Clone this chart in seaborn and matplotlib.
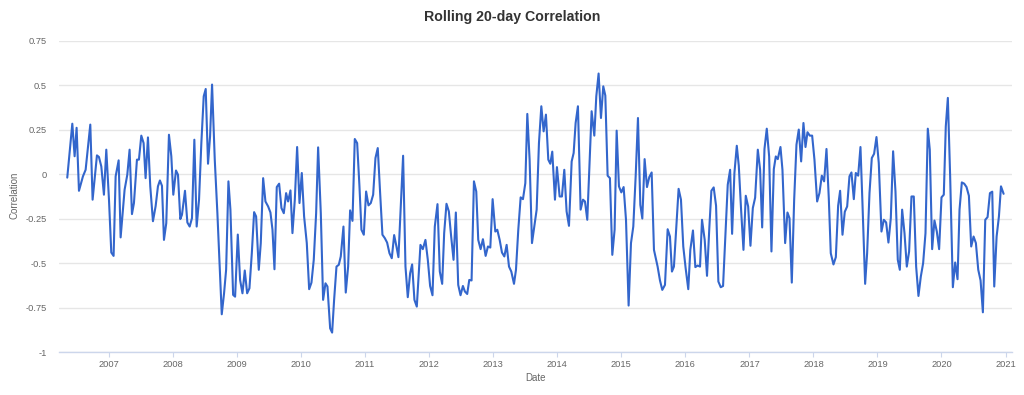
import numpy as np
import pandas as pd
import matplotlib
matplotlib.use("Agg")
import matplotlib.pyplot as plt
import matplotlib.dates as mdates
from matplotlib.ticker import FixedLocator, FuncFormatter
import seaborn as sns

title = "Rolling 20-day Correlation"
x_label = "Date"
y_label = "Correlation"
y_ticks = [-1, -0.75, -0.5, -0.25, 0, 0.25, 0.5, 0.75]
year_ticks = list(range(2007, 2022))

# sample dates as decimal years
dec_years = [
    2006.349, 2006.428, 2006.464, 2006.495, 2006.532, 2006.594, 2006.636, 2006.709, 2006.745, 2006.813,
    2006.844, 2006.881, 2006.922, 2006.959, 2007.001, 2007.037, 2007.073, 2007.105, 2007.152, 2007.183,
    2007.245, 2007.287, 2007.323, 2007.360, 2007.391, 2007.438, 2007.469, 2007.506, 2007.542, 2007.573,
    2007.610, 2007.646, 2007.688, 2007.730, 2007.766, 2007.797, 2007.829, 2007.860, 2007.896, 2007.938,
    2007.975, 2008.006, 2008.048, 2008.079,
    2008.115, 2008.141, 2008.188, 2008.225, 2008.261, 2008.297, 2008.334, 2008.370, 2008.407, 2008.443,
    2008.480, 2008.511, 2008.547, 2008.579, 2008.610, 2008.652, 2008.693, 2008.725, 2008.761, 2008.797,
    2008.829, 2008.865, 2008.896, 2008.938, 2008.969, 2009.011, 2009.047, 2009.084, 2009.120, 2009.157,
    2009.193, 2009.230, 2009.266, 2009.297, 2009.339, 2009.370, 2009.407, 2009.443, 2009.485, 2009.521,
    2009.553, 2009.584, 2009.620, 2009.657, 2009.693, 2009.730, 2009.766, 2009.797, 2009.834, 2009.865,
    2009.902, 2009.938, 2009.975,
    2010.011, 2010.047, 2010.089, 2010.126, 2010.162, 2010.198, 2010.235, 2010.266, 2010.308, 2010.344,
    2010.381, 2010.412, 2010.454, 2010.485, 2010.516, 2010.553, 2010.589, 2010.620, 2010.662, 2010.698,
    2010.735, 2010.766, 2010.803, 2010.839, 2010.876, 2010.912, 2010.943, 2010.980, 2011.016, 2011.053,
    2011.089, 2011.126, 2011.162, 2011.198, 2011.235, 2011.271, 2011.308, 2011.344, 2011.381, 2011.417,
    2011.454, 2011.490, 2011.521, 2011.558, 2011.594, 2011.631, 2011.667, 2011.704, 2011.735, 2011.771,
    2011.808,
    2011.865, 2011.902, 2011.943, 2011.980, 2012.016, 2012.053, 2012.089, 2012.131, 2012.167, 2012.204,
    2012.235, 2012.271, 2012.308, 2012.344, 2012.381, 2012.417, 2012.454, 2012.490, 2012.527, 2012.558,
    2012.594, 2012.626, 2012.662, 2012.699, 2012.735, 2012.766, 2012.803, 2012.839, 2012.881, 2012.917,
    2012.954, 2012.990, 2013.032, 2013.063, 2013.100, 2013.136, 2013.173, 2013.209, 2013.246, 2013.282,
    2013.324, 2013.355, 2013.391, 2013.428, 2013.464, 2013.501, 2013.532, 2013.568, 2013.605, 2013.641,
    2013.678,
    2013.714, 2013.751, 2013.787, 2013.823, 2013.860, 2013.891, 2013.922, 2013.964, 2013.995, 2014.037,
    2014.073, 2014.110, 2014.146, 2014.183, 2014.225, 2014.256, 2014.287, 2014.323, 2014.365, 2014.402,
    2014.433, 2014.469, 2014.506, 2014.537, 2014.579, 2014.610, 2014.646, 2014.683, 2014.719, 2014.751,
    2014.787, 2014.823, 2014.860, 2014.896, 2014.928, 2014.964, 2015.001, 2015.037, 2015.074, 2015.115,
    2015.152, 2015.188, 2015.225, 2015.261, 2015.298, 2015.329, 2015.365, 2015.402, 2015.438, 2015.475,
    2015.511, 2015.548,
    2015.568, 2015.605, 2015.641, 2015.683, 2015.725, 2015.761, 2015.792, 2015.823, 2015.860, 2015.896,
    2015.933, 2015.969, 2016.006, 2016.047, 2016.079, 2016.120, 2016.157, 2016.193, 2016.230, 2016.261,
    2016.303, 2016.339, 2016.376, 2016.407, 2016.443, 2016.480, 2016.516, 2016.553, 2016.589, 2016.626,
    2016.662, 2016.699, 2016.730, 2016.766, 2016.803, 2016.834, 2016.870, 2016.907, 2016.943, 2016.980,
    2017.016, 2017.053, 2017.089, 2017.131, 2017.167, 2017.199, 2017.235, 2017.271, 2017.308, 2017.344,
    2017.381, 2017.412, 2017.443,
    2017.485, 2017.516, 2017.558, 2017.594, 2017.626, 2017.662, 2017.699, 2017.735, 2017.771, 2017.808,
    2017.844, 2017.876, 2017.907, 2017.943, 2017.980, 2018.016, 2018.058, 2018.094, 2018.131, 2018.167,
    2018.204, 2018.240, 2018.271, 2018.313, 2018.350, 2018.386, 2018.417, 2018.454, 2018.490, 2018.527,
    2018.563, 2018.594, 2018.631, 2018.662, 2018.699, 2018.735, 2018.766, 2018.808, 2018.839, 2018.876,
    2018.912, 2018.948, 2018.985, 2019.021, 2019.063, 2019.100, 2019.136, 2019.172, 2019.209, 2019.245,
    2019.282, 2019.318,
    2019.350, 2019.386, 2019.423, 2019.459, 2019.495, 2019.532, 2019.568, 2019.605, 2019.641, 2019.678,
    2019.714, 2019.751, 2019.787, 2019.818, 2019.855, 2019.891, 2019.928, 2019.964, 2020.001, 2020.037,
    2020.068, 2020.100, 2020.136, 2020.178, 2020.214, 2020.251, 2020.282, 2020.318, 2020.355, 2020.391,
    2020.428, 2020.464, 2020.501, 2020.537, 2020.574, 2020.610, 2020.646, 2020.683, 2020.719, 2020.756,
    2020.792, 2020.823, 2020.860, 2020.896, 2020.928, 2020.969,
]

correlation = [
    -0.020, 0.283, 0.100, 0.260, -0.094, -0.013, 0.024, 0.278, -0.144, 0.105,
    0.096, 0.043, -0.116, 0.137, -0.144, -0.441, -0.460, -0.013, 0.077, -0.356,
    -0.088, -0.004, 0.137, -0.225, -0.163, 0.081, 0.081, 0.216, 0.174, -0.023,
    0.206, -0.069, -0.265, -0.180, -0.069, -0.036, -0.066, -0.370, -0.276, 0.221,
    0.100, -0.116, 0.020, -0.004,
    -0.253, -0.229, -0.094, -0.272, -0.295, -0.248, 0.193, -0.295, -0.144, 0.174,
    0.437, 0.478, 0.058, 0.212, 0.503, 0.081, -0.220, -0.482, -0.788, -0.670,
    -0.538, -0.041, -0.200, -0.679, -0.689, -0.340, -0.595, -0.670, -0.542, -0.670,
    -0.642, -0.445, -0.214, -0.238, -0.538, -0.388, -0.023, -0.154, -0.182, -0.216,
    -0.313, -0.535, -0.073, -0.054, -0.191, -0.220, -0.107, -0.154, -0.092, -0.332,
    -0.144, 0.152, -0.163,
    0.006, -0.238, -0.388, -0.647, -0.610, -0.482, -0.220, 0.150, -0.220, -0.707,
    -0.614, -0.632, -0.867, -0.891, -0.707, -0.520, -0.510, -0.463, -0.295, -0.666,
    -0.520, -0.204, -0.263, 0.197, 0.174, -0.069, -0.313, -0.341, -0.098, -0.176,
    -0.163, -0.116, 0.090, 0.146, -0.107, -0.341, -0.360, -0.385, -0.445, -0.473,
    -0.343, -0.407, -0.467, -0.182, 0.103, -0.520, -0.692, -0.557, -0.508, -0.707,
    -0.745,
    -0.398, -0.422, -0.370, -0.482, -0.629, -0.681, -0.295, -0.169, -0.548, -0.617,
    -0.332, -0.167, -0.210, -0.351, -0.482, -0.216, -0.623, -0.681, -0.629, -0.660,
    -0.674, -0.595, -0.598, -0.041, -0.098, -0.370, -0.422, -0.366, -0.460, -0.407,
    -0.413, -0.141, -0.323, -0.313, -0.370, -0.441, -0.463, -0.398, -0.520, -0.548,
    -0.617, -0.538, -0.313, -0.131, -0.141, -0.051, 0.338, 0.081, -0.388, -0.295,
    -0.200,
    0.174, 0.381, 0.240, 0.334, 0.081, 0.058, 0.126, -0.144, 0.039, -0.126,
    -0.126, 0.024, -0.210, -0.291, 0.071, 0.118, 0.287, 0.381, -0.200, -0.144,
    -0.154, -0.257, 0.081, 0.353, 0.216, 0.437, 0.565, 0.315, 0.493, 0.441,
    -0.009, -0.023, -0.454, -0.313, 0.244, -0.069, -0.103, -0.073, -0.257, -0.739,
    -0.388, -0.295, -0.013, 0.315, -0.173, -0.250, 0.084, -0.073, -0.017, 0.009,
    -0.426, -0.488,
    -0.520, -0.598, -0.651, -0.623, -0.310, -0.351, -0.548, -0.520, -0.295, -0.083,
    -0.144, -0.407, -0.529, -0.647, -0.426, -0.317, -0.523, -0.514, -0.520, -0.257,
    -0.370, -0.572, -0.295, -0.094, -0.075, -0.178, -0.604, -0.636, -0.629, -0.347,
    -0.060, 0.024, -0.336, 0.006, 0.159, 0.047, -0.200, -0.426, -0.122, -0.182,
    -0.403, -0.191, -0.133, 0.137, 0.024, -0.300, 0.141, 0.255, 0.099, -0.435,
    0.028, 0.099, 0.084,
    0.152, 0.024, -0.388, -0.216, -0.248, -0.610, -0.144, 0.165, 0.250, 0.071,
    0.287, 0.152, 0.235, 0.216, 0.216, 0.081, -0.154, -0.107, -0.009, -0.041,
    0.141, -0.135, -0.445, -0.508, -0.467, -0.178, -0.094, -0.341, -0.212, -0.182,
    -0.013, 0.009, -0.141, 0.006, -0.009, 0.152, -0.163, -0.617, -0.445, -0.107,
    0.090, 0.114, 0.208, 0.062, -0.323, -0.257, -0.272, -0.385, -0.248, 0.128,
    -0.098, -0.482,
    -0.538, -0.200, -0.332, -0.520, -0.435, -0.126, -0.126, -0.520, -0.685, -0.576,
    -0.501, -0.332, 0.255, 0.137, -0.422, -0.261, -0.323, -0.422, -0.131, -0.116,
    0.268, 0.428, -0.013, -0.636, -0.497, -0.591, -0.200, -0.047, -0.054, -0.073,
    -0.122, -0.407, -0.351, -0.388, -0.538, -0.598, -0.777, -0.257, -0.242, -0.107,
    -0.099, -0.632, -0.351, -0.238, -0.069, -0.111,
]


def dec_to_ts(y):
    yr = int(np.floor(y))
    a = pd.Timestamp(yr, 1, 1)
    b = pd.Timestamp(yr + 1, 1, 1)
    return a + (b - a) * (y - yr)


df = pd.DataFrame({"Date": [dec_to_ts(v) for v in dec_years], "Correlation": correlation})

sns.set_theme(style="white")
plt.rcParams["font.family"] = ["Liberation Sans", "DejaVu Sans"]
plt.rcParams["axes.unicode_minus"] = False

W, H = 1024, 395
fig = plt.figure(figsize=(W / 100, H / 100), dpi=100)
ax = fig.add_axes([59 / W, 1 - 352 / H, (1012 - 59) / W, (352 - 40.6) / H])

sns.lineplot(data=df, x="Date", y="Correlation", ax=ax, color="#3366cc", linewidth=1.5)

ax.set_ylim(-1, 0.75)
ax.set_xlim(dec_to_ts(2006.22), dec_to_ts(2021.1))
ax.yaxis.set_major_locator(FixedLocator(y_ticks))
ax.yaxis.set_major_formatter(FuncFormatter(lambda v, p: f"{v:g}"))
ax.xaxis.set_major_locator(mdates.YearLocator())
ax.xaxis.set_major_formatter(mdates.DateFormatter("%Y"))

ax.grid(axis="y", color="#e6e6e6", linewidth=1)
ax.grid(axis="x", visible=False)
ax.set_axisbelow(True)
for s in ["top", "right", "left"]:
    ax.spines[s].set_visible(False)
ax.spines["bottom"].set_color("#ccd6eb")
ax.spines["bottom"].set_linewidth(1)

ax.tick_params(axis="y", length=0, labelsize=6.7, labelcolor="#666666", pad=9)
ax.tick_params(axis="x", length=3.6, width=0.8, color="#ccd6eb", labelsize=6.7,
               labelcolor="#666666", direction="out", bottom=True, pad=2)

ax.set_xlabel("")
ax.set_ylabel("")
fig.text(535 / W, 1 - 378 / H, x_label, ha="center", va="center", fontsize=7, color="#666666")
fig.text(15 / W, 1 - 195 / H, y_label, ha="center", va="center", rotation=90,
         fontsize=7, color="#666666")
fig.text(0.5, 1 - 17 / H, title, ha="center", va="center",
         fontsize=10.2, fontweight="bold", color="#333333")

fig.savefig("out.png", dpi=100)
